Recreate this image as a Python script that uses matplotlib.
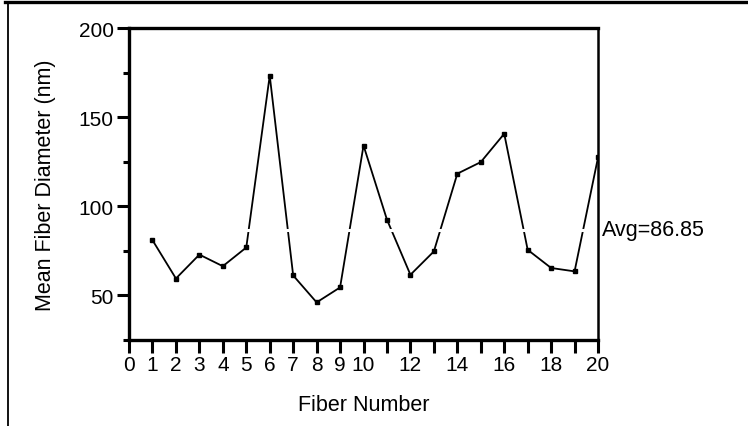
import matplotlib.pyplot as plt
from matplotlib.lines import Line2D
from matplotlib.ticker import MultipleLocator

plt.rcParams['font.family'] = ['Liberation Sans', 'DejaVu Sans']

fiber = list(range(1, 21))
diameter = [81.0, 59.5, 72.9, 66.4, 76.9, 173.3, 61.2, 46.1, 54.5, 134.1,
            92.5, 61.6, 74.7, 118.3, 124.8, 140.7, 75.6, 65.4, 63.5, 127.4]
avg = 86.85
xtick_pos = list(range(0, 21))
xtick_labels = ['0', '1', '2', '3', '4', '5', '6', '7', '8', '9', '10',
                '', '12', '', '14', '', '16', '', '18', '', '20']

fig = plt.figure(figsize=(7.48, 4.27), dpi=100)
ax = fig.add_axes([0.1725, 0.2014, 0.627, 0.7306])

ax.plot(fiber, diameter, color='black', linewidth=1.3, marker='s',
        markersize=3.5, zorder=3)
# average drawn as a white rule that cuts through the trace
ax.axhline(avg, color='white', linewidth=2.2, zorder=4)
ax.text(1.008, avg, f'Avg={avg:.2f}', transform=ax.get_yaxis_transform(),
        fontsize=15.5, va='center', ha='left')

ax.set_xlim(0, 20)
ax.set_ylim(25, 200)
ax.set_xticks(xtick_pos)
ax.set_xticklabels(xtick_labels)
ax.set_yticks([50, 100, 150, 200])
ax.yaxis.set_minor_locator(MultipleLocator(25))

for side in ['left', 'top', 'bottom']:
    ax.spines[side].set_linewidth(2.4)
ax.spines['right'].set_linewidth(1.8)
for sp in ax.spines.values():
    sp.set_zorder(6)

ax.tick_params(axis='both', which='major', direction='out', length=9,
               width=2.2, labelsize=15, pad=2)
ax.tick_params(axis='y', which='minor', direction='out', length=4.5, width=2.2)
ax.tick_params(axis='x', which='minor', length=0)

ax.set_xlabel('Fiber Number', fontsize=15.5, labelpad=14)
ax.set_ylabel('Mean Fiber Diameter (nm)', fontsize=15.5, labelpad=16)

# page frame lines along the top and left edge
fig.add_artist(Line2D([5 / 748, 1], [1 - 3 / 427, 1 - 3 / 427],
                      transform=fig.transFigure, color='black', linewidth=2.4))
fig.add_artist(Line2D([7.5 / 748, 7.5 / 748], [0, 1 - 3 / 427],
                      transform=fig.transFigure, color='black', linewidth=1.3))

fig.savefig('out.png', dpi=100)
